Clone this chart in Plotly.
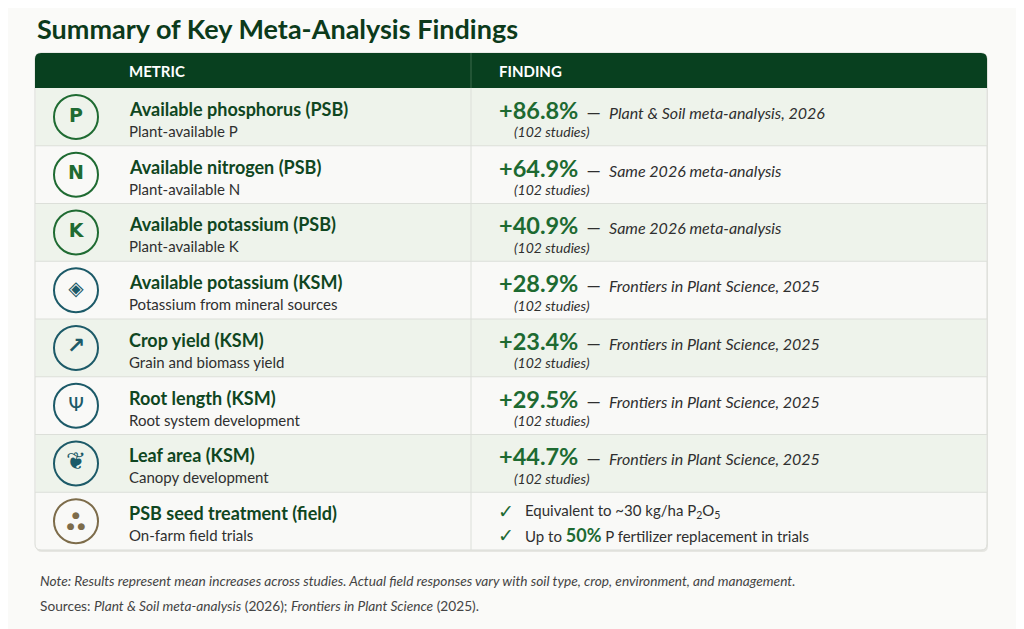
import plotly.graph_objects as go

# data
metrics = ["Available phosphorus (PSB)", "Available nitrogen (PSB)", "Available potassium (PSB)",
           "Available potassium (KSM)", "Crop yield (KSM)", "Root length (KSM)", "Leaf area (KSM)",
           "PSB seed treatment (field)"]
subtitles = ["Plant-available P", "Plant-available N", "Plant-available K",
             "Potassium from mineral sources", "Grain and biomass yield", "Root system development",
             "Canopy development", "On-farm field trials"]
increases = [86.8, 64.9, 40.9, 28.9, 23.4, 29.5, 44.7]
sources = ["Plant & Soil meta-analysis, 2026", "Same 2026 meta-analysis", "Same 2026 meta-analysis",
           "Frontiers in Plant Science, 2025", "Frontiers in Plant Science, 2025",
           "Frontiers in Plant Science, 2025", "Frontiers in Plant Science, 2025"]
studies = [102, 102, 102, 102, 102, 102, 102]
field_points = ["Equivalent to ~30 kg/ha P<sub>2</sub>O<sub>5</sub>",
                "Up to <b><span style='color:#1d6a31;font-size:18px'>50%</span></b> P fertilizer replacement in trials"]
icon_glyphs = ["<b>P</b>", "<b>N</b>", "<b>K</b>", "◈", "<b>↗</b>", "Ψ", "❦", "●<br>● ●"]
icon_group = ["psb", "psb", "psb", "ksm", "ksm", "ksm", "ksm", "field"]

FONT = "Lato"
DARK = "#0c3a1b"
GREEN = "#1d6a31"
TEXT = "#2f2f2f"
icon_colors = {"psb": "#1f6b32", "ksm": "#1c5a68", "field": "#7d6c4a"}

# layout geometry (page pixels; the html body adds an 8px offset)
OFF = 8
X0, X1, XMID = 35, 987, 471
HEAD_TOP, HEAD_BOT = 53, 88
ROW_H = 57.75
n = len(metrics)
TABLE_BOT = HEAD_BOT + n * ROW_H


def row_center(i):
    return HEAD_BOT + (i + 0.5) * ROW_H


def rounded(x0, y0, x1, y1, r, top=True, bottom=True):
    p = f"M{x0 + r},{y0} " if top else f"M{x0},{y0} "
    p += f"L{x1 - r},{y0} Q{x1},{y0} {x1},{y0 + r} " if top else f"L{x1},{y0} "
    p += f"L{x1},{y1 - r} Q{x1},{y1} {x1 - r},{y1} " if bottom else f"L{x1},{y1} "
    p += f"L{x0 + r},{y1} Q{x0},{y1} {x0},{y1 - r} " if bottom else f"L{x0},{y1} "
    p += f"L{x0},{y0 + r} Q{x0},{y0} {x0 + r},{y0} Z" if top else f"L{x0},{y0} Z"
    return p


fig = go.Figure()
shapes = []
# shadow + table body
shapes.append(dict(type="path", path=rounded(X0 + 1, HEAD_TOP + 2, X1 + 1, TABLE_BOT + 2, 6),
                   fillcolor="#e6e6e2", line=dict(width=0), layer="below"))
shapes.append(dict(type="path", path=rounded(X0, HEAD_TOP, X1, TABLE_BOT, 6),
                   fillcolor="#f9f9f7", line=dict(color="#d9dbd6", width=1), layer="below"))
for i in range(n):
    top = HEAD_BOT + i * ROW_H
    if i % 2 == 0:
        shapes.append(dict(type="rect", x0=X0 + 1, x1=X1 - 1, y0=top, y1=top + ROW_H,
                           fillcolor="#eef3eb", line=dict(width=0), layer="below"))
    if i > 0:
        shapes.append(dict(type="line", x0=X0, x1=X1, y0=top, y1=top,
                           line=dict(color="#dcdfd9", width=1)))
shapes.append(dict(type="line", x0=XMID, x1=XMID, y0=HEAD_BOT, y1=TABLE_BOT,
                   line=dict(color="#dcdfd9", width=1)))
shapes.append(dict(type="path", path=rounded(X0, HEAD_TOP, X1, HEAD_BOT, 6, bottom=False),
                   fillcolor="#08401f", line=dict(width=0)))
shapes.append(dict(type="line", x0=XMID, x1=XMID, y0=HEAD_TOP, y1=HEAD_BOT,
                   line=dict(color="#3d6b4c", width=1)))

# icon rings
ring_colors = [icon_colors[g] for g in icon_group]
fig.add_trace(go.Scatter(
    x=[76] * n, y=[row_center(i) for i in range(n)], mode="markers+text",
    marker=dict(symbol="circle-open", size=44, color=ring_colors, line=dict(width=2)),
    text=icon_glyphs, textposition="middle center",
    textfont=dict(family="DejaVu Sans", size=[19, 19, 19, 20, 22, 20, 24, 9], color=ring_colors),
    hoverinfo="skip", showlegend=False))

ann = []
ann.append(dict(x=35, y=28, text="<b>Summary of Key Meta-Analysis Findings</b>", xanchor="left",
                font=dict(family=FONT, size=27, color=DARK)))
ann.append(dict(x=127, y=71, text="<b>METRIC</b>", xanchor="left",
                font=dict(family=FONT, size=15, color="white")))
ann.append(dict(x=497, y=71, text="<b>FINDING</b>", xanchor="left",
                font=dict(family=FONT, size=15, color="white")))

for i in range(n):
    c = row_center(i)
    ann.append(dict(x=127, y=c - 8, text="<b>" + metrics[i] + "</b>", xanchor="left",
                    font=dict(family=FONT, size=18, color="#0f4621")))
    ann.append(dict(x=127, y=c + 14, text=subtitles[i], xanchor="left",
                    font=dict(family=FONT, size=15, color=TEXT)))

for i, v in enumerate(increases):
    c = row_center(i)
    ann.append(dict(x=497, y=c - 7,
                    text=f"<b><span style='color:{GREEN};font-size:23.5px'>+{v:.1f}%</span></b>"
                         f"  <span style='font-size:18px'>—</span>  <i>{sources[i]}</i>",
                    xanchor="left", font=dict(family=FONT, size=16, color=TEXT)))
    ann.append(dict(x=512, y=c + 15, text=f"<i>({studies[i]} studies)</i>", xanchor="left",
                    font=dict(family=FONT, size=14, color=TEXT)))

c = row_center(n - 1)
for k, t in enumerate(field_points):
    yy = c - 10 + k * 24
    ann.append(dict(x=496, y=yy, text="<b>✓</b>", xanchor="left",
                    font=dict(family="DejaVu Sans", size=19, color=GREEN)))
    ann.append(dict(x=523, y=yy, text=t, xanchor="left",
                    font=dict(family=FONT, size=15, color=TEXT)))

ann.append(dict(x=38, y=580, xanchor="left",
                text="<i>Note: Results represent mean increases across studies. Actual field responses "
                     "vary with soil type, crop, environment, and management.</i>",
                font=dict(family=FONT, size=13.7, color="#444444")))
ann.append(dict(x=38, y=605, xanchor="left",
                text="Sources: <i>Plant & Soil meta-analysis</i> (2026); <i>Frontiers in Plant Science</i> (2025).",
                font=dict(family=FONT, size=13.7, color="#444444")))

for a in ann:
    a.update(xref="x", yref="y", showarrow=False, yanchor="middle")

fig.update_layout(
    width=1024, height=629, margin=dict(l=0, r=0, t=0, b=0),
    paper_bgcolor="#fafaf8", plot_bgcolor="#fafaf8",
    xaxis=dict(range=[OFF, 1024 + OFF], visible=False, fixedrange=True),
    yaxis=dict(range=[629 + OFF, OFF], visible=False, fixedrange=True),
    shapes=shapes, annotations=ann,
)

fig.write_html("out.html")
